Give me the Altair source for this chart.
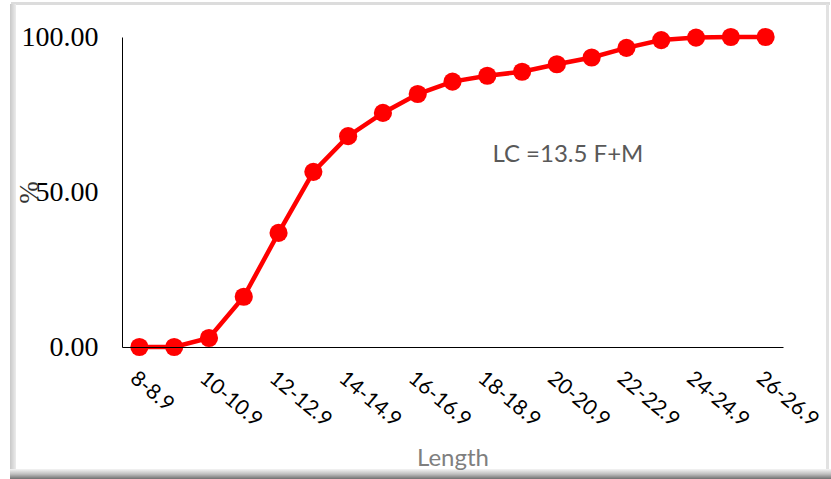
import altair as alt
import pandas as pd

categories = ["8-8.9", "9-9.9", "10-10.9", "11-11.9", "12-12.9", "13-13.9", "14-14.9",
              "15-15.9", "16-16.9", "17-17.9", "18-18.9", "19-19.9", "20-20.9", "21-21.9",
              "22-22.9", "23-23.9", "24-24.9", "25-25.9", "26-26.9"]
values = [0.0, 0.0, 2.9, 16.2, 36.8, 56.5, 68.0, 75.5, 81.6, 85.6, 87.5, 88.8, 91.2,
          93.4, 96.5, 99.0, 99.8, 100.0, 100.0]
shown_labels = categories[::2]
annotation_text = ["LC =13.5 F+M"]

df = pd.DataFrame({"Length": categories, "pct": values})

xscale = alt.Scale(type="point", padding=0.5, domain=categories)
yscale = alt.Scale(domain=[0, 100])

x_axis = alt.Axis(
    values=shown_labels, labelAngle=40, labelAlign="left", labelBaseline="top",
    labelPadding=20, labelFont="Lato", labelFontSize=21, labelColor="#000000",
    ticks=False, domainColor="#000000", domainWidth=1, grid=False,
    title="Length", titleFont="Lato", titleFontSize=24, titleFontWeight="normal",
    titleColor="#7f7f7f", titleY=99, titleBaseline="top", labelOverlap=False,
    zindex=1,
)
y_axis = alt.Axis(
    values=[0, 50, 100], format=".2f", labelFont="Liberation Serif", labelFontSize=28,
    labelColor="#000000", labelPadding=24, ticks=False, domainColor="#000000",
    domainWidth=1, grid=False,
    title="%", titleFont="Liberation Serif", titleFontSize=27, titleFontWeight="normal",
    titleColor="#333333", titleX=-79, titleY=155, titleAngle=-90, zindex=1,
)

line = alt.Chart(df).mark_line(color="#ff0000", strokeWidth=4.5).encode(
    x=alt.X("Length:N", scale=xscale, axis=x_axis, sort=categories),
    y=alt.Y("pct:Q", scale=yscale, axis=y_axis),
)
points = alt.Chart(df).mark_circle(color="#ff0000", opacity=1, size=330).encode(
    x=alt.X("Length:N", scale=xscale, sort=categories),
    y=alt.Y("pct:Q", scale=yscale),
)

ann_df = pd.DataFrame({"Length": ["20-20.9"], "pct": [62], "label": annotation_text})
annotation = alt.Chart(ann_df).mark_text(
    font="Lato", fontSize=24, color="#595959", dx=11, align="center", baseline="middle"
).encode(
    x=alt.X("Length:N", scale=xscale, sort=categories),
    y=alt.Y("pct:Q", scale=yscale),
    text="label:N",
)

frame_df = pd.DataFrame({"k": [0]})
top_edge = alt.Chart(frame_df).mark_rect(color="#dcdcdc").encode(
    x=alt.value(-111), x2=alt.value(708), y=alt.value(-35), y2=alt.value(-32)
)
left_edge = alt.Chart(frame_df).mark_rect(
    color=alt.LinearGradient(
        gradient="linear", x1=0, x2=1, y1=0, y2=0,
        stops=[alt.GradientStop(color="#c8c8c8", offset=0),
               alt.GradientStop(color="#ececec", offset=1)],
    )
).encode(x=alt.value(-112), x2=alt.value(-106), y=alt.value(-33), y2=alt.value(436))
right_edge = alt.Chart(frame_df).mark_rect(color="#e2e2e2").encode(
    x=alt.value(704), x2=alt.value(707), y=alt.value(-33), y2=alt.value(436)
)
bottom_edge = alt.Chart(frame_df).mark_rect(
    color=alt.LinearGradient(
        gradient="linear", x1=0, x2=0, y1=0, y2=1,
        stops=[alt.GradientStop(color="#f4f4f4", offset=0),
               alt.GradientStop(color="#c0c0c0", offset=0.5),
               alt.GradientStop(color="#707070", offset=1)],
    )
).encode(x=alt.value(-112), x2=alt.value(709), y=alt.value(432), y2=alt.value(442))

chart = alt.layer(top_edge, left_edge, right_edge, bottom_edge, line, points, annotation).properties(
    width=661, height=310,
    autosize=alt.AutoSizeParams(type="none"),
    padding={"left": 122, "top": 37, "right": 48, "bottom": 132},
    background="#ffffff",
).configure_view(stroke=None)

chart.save("out.html", embed_options={"renderer": "svg", "actions": False})
